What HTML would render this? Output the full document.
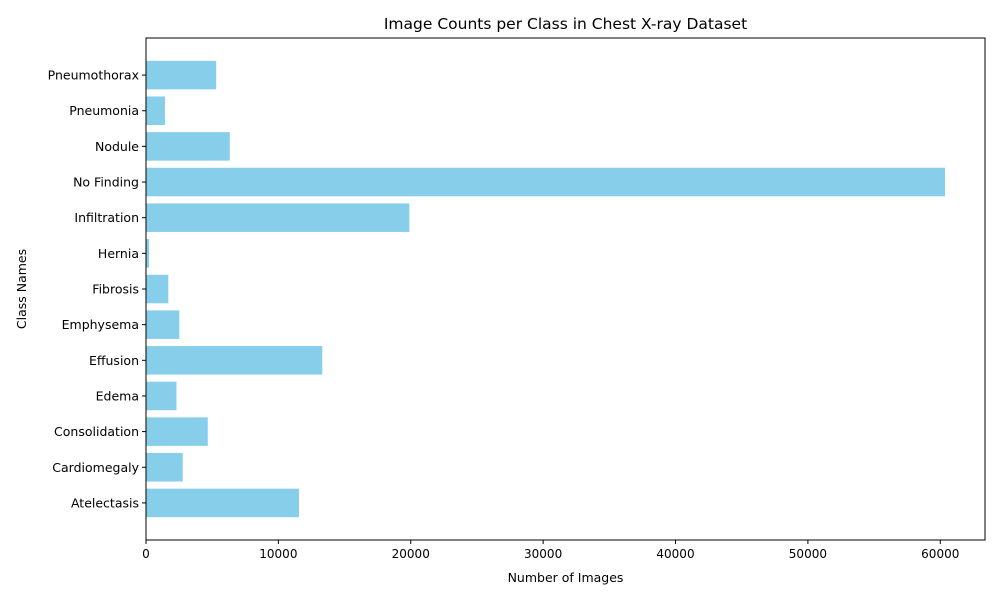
<!DOCTYPE html>
<html><head><meta charset="utf-8"><style>
body{margin:0;background:#fff;font-family:"Liberation Sans","DejaVu Sans",sans-serif}
svg text{font-family:"DejaVu Sans","Liberation Sans",sans-serif}
</style></head><body>
<svg id="chart" width="1000" height="600"></svg>
<script>
const categories=["Atelectasis","Cardiomegaly","Consolidation","Edema","Effusion","Emphysema","Fibrosis","Hernia","Infiltration","No Finding","Nodule","Pneumonia","Pneumothorax"];
const counts=[11559,2776,4667,2303,13317,2516,1686,227,19894,60361,6331,1431,5302];
const xTicks=[0,10000,20000,30000,40000,50000,60000];
const NS="http://www.w3.org/2000/svg";
const svg=document.getElementById('chart');
const L=146,R=985,T=38,B=540;
const xmax=Math.max(...counts)*1.05;
const x=v=>L+v/xmax*(R-L);
const n=categories.length;
const span=(n-1+0.8)*1.1;
const lo=-0.4-(n-1+0.8)*0.05;
const step=(B-T)/span;
const y=i=>B-(i-lo)*step;
function el(t,a,txt){const e=document.createElementNS(NS,t);for(const k in a)e.setAttribute(k,a[k]);if(txt!==undefined)e.textContent=txt;svg.appendChild(e);return e;}
categories.forEach((c,i)=>{
 const b=el('rect',{x:L,y:y(i)-step*0.4,width:x(counts[i])-L,height:step*0.8,fill:'#87ceeb'});
 
 
 el('line',{x1:L-4,x2:L,y1:y(i),y2:y(i),stroke:'#000'});
 const t=el('text',{x:L-7,y:y(i)+4.5,'text-anchor':'end','font-size':12.5},c);
 
 
});
xTicks.forEach(v=>{
 el('line',{x1:x(v),x2:x(v),y1:B,y2:B+4,stroke:'#000'});
 const t=el('text',{x:x(v),y:B+18,'text-anchor':'middle','font-size':12},String(v));
 
 
});
const f=el('rect',{x:L,y:T,width:R-L,height:B-T,fill:'none',stroke:'#000','stroke-width':1});


const ti=el('text',{x:(L+R)/2,y:29,'text-anchor':'middle','font-size':15.5},'Image Counts per Class in Chest X-ray Dataset');


const xt=el('text',{x:(L+R)/2,y:582,'text-anchor':'middle','font-size':12.5},'Number of Images');


const yt=el('text',{x:26,y:(T+B)/2,'text-anchor':'middle','font-size':12.5,transform:`rotate(-90 26 ${(T+B)/2})`},'Class Names');


</script>
</body></html>
